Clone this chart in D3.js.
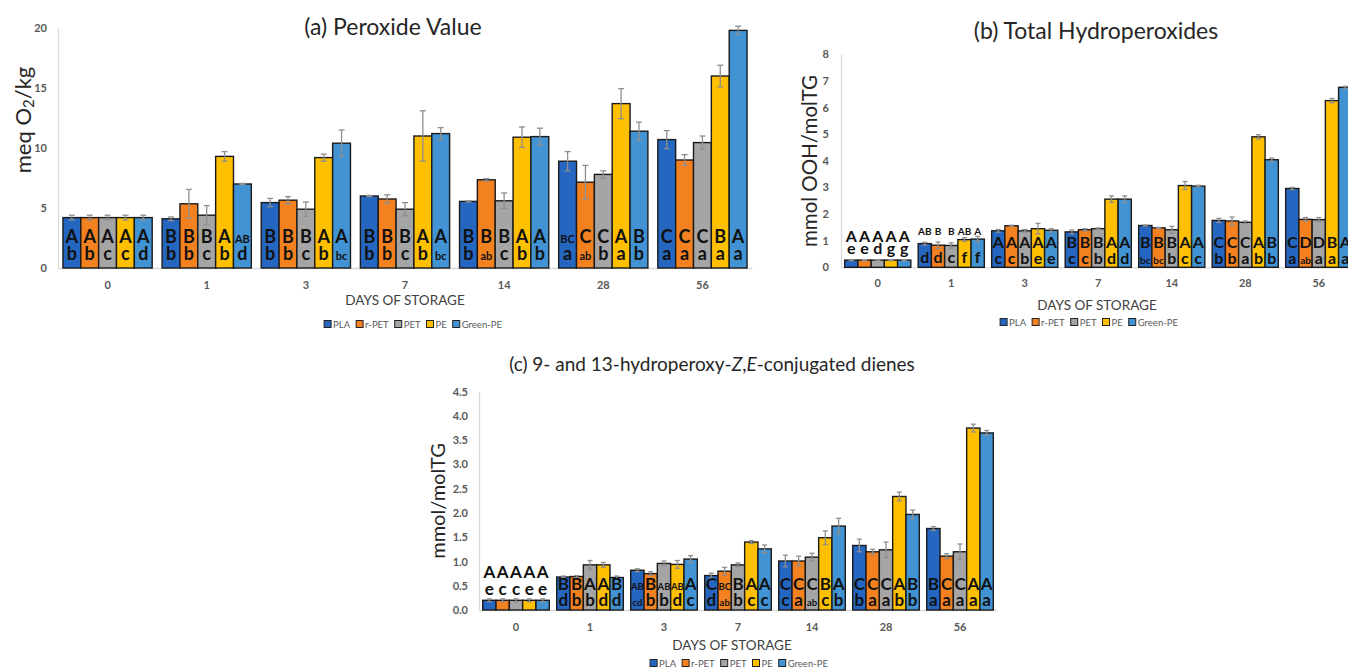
<!DOCTYPE html>
<html>
<head>
<meta charset="utf-8">
<script src="https://cdn.jsdelivr.net/npm/d3@7"></script>
<style>
  body { margin: 0; background: #fff; }
  svg { display: block; font-family: Lato, "Open Sans", sans-serif; }
</style>
</head>
<body>
<div id="chart"></div>
<script>
// categories
const days = ["0", "1", "3", "7", "14", "28", "56"];
const series = ["PLA", "r-PET", "PET", "PE", "Green-PE"];

// (a) peroxide value, meq O2/kg
const pvPLA  = [4.2, 4.1, 5.45, 6.0, 5.55, 8.9, 10.7];
const pvRPET = [4.2, 5.35, 5.65, 5.75, 7.35, 7.15, 9.0];
const pvPET  = [4.2, 4.4, 4.9, 4.9, 5.6, 7.8, 10.45];
const pvPE   = [4.2, 9.3, 9.2, 11.0, 10.9, 13.7, 16.0];
const pvGPE  = [4.2, 7.0, 10.4, 11.2, 10.95, 11.4, 19.8];
const pvPLAerr  = [0.2, 0.15, 0.35, 0.05, 0.05, 0.8, 0.75];
const pvRPETerr = [0.2, 1.2, 0.3, 0.35, 0.1, 1.4, 0.45];
const pvPETerr  = [0.2, 0.8, 0.6, 0.55, 0.65, 0.3, 0.55];
const pvPEerr   = [0.2, 0.4, 0.3, 2.1, 0.85, 1.25, 0.9];
const pvGPEerr  = [0.2, 0.05, 1.1, 0.5, 0.7, 0.75, 0.35];
const pvUpper = [["A","A","A","A","A"], ["B","B","B","A","AB"], ["B","B","B","A","A"], ["B","B","B","A","A"],
                 ["B","B","B","A","A"], ["BC","C","C","A","B"], ["C","C","C","B","A"]];
const pvLower = [["b","b","c","c","d"], ["b","b","c","b","d"], ["b","b","c","b","bc"], ["b","b","c","b","bc"],
                 ["b","ab","c","b","b"], ["a","ab","b","a","b"], ["a","a","a","a","a"]];

// (b) total hydroperoxides, mmol OOH/molTG
const thPLA  = [0.27, 0.89, 1.37, 1.33, 1.57, 1.76, 2.96];
const thRPET = [0.27, 0.83, 1.56, 1.41, 1.48, 1.74, 1.8];
const thPET  = [0.27, 0.82, 1.37, 1.45, 1.41, 1.69, 1.79];
const thPE   = [0.27, 1.04, 1.45, 2.56, 3.07, 4.9, 6.26];
const thGPE  = [0.27, 1.06, 1.39, 2.56, 3.05, 4.04, 6.76];
const thPLAerr  = [0.02, 0.05, 0.05, 0.07, 0.02, 0.08, 0.04];
const thRPETerr = [0.02, 0.12, 0.02, 0.04, 0.02, 0.15, 0.07];
const thPETerr  = [0.02, 0.1, 0.05, 0.03, 0.13, 0.05, 0.08];
const thPEerr   = [0.02, 0.07, 0.2, 0.12, 0.15, 0.08, 0.08];
const thGPEerr  = [0.02, 0.1, 0.06, 0.12, 0.03, 0.06, 0.04];
const thUpper = [["A","A","A","A","A"], ["AB","B","B","AB","A"], ["A","A","A","A","A"], ["B","B","B","A","A"],
                 ["B","B","B","A","A"], ["C","C","C","A","B"], ["C","D","D","B","A"]];
const thLower = [["e","e","d","g","g"], ["d","d","c","f","f"], ["c","c","b","e","e"], ["c","c","b","d","d"],
                 ["bc","bc","b","c","c"], ["b","b","a","b","b"], ["a","ab","a","a","a"]];

// (c) conjugated dienes, mmol/molTG
const cdPLA  = [0.2, 0.68, 0.82, 0.71, 1.01, 1.33, 1.68];
const cdRPET = [0.2, 0.69, 0.75, 0.8, 1.01, 1.2, 1.11];
const cdPET  = [0.2, 0.93, 0.96, 0.93, 1.09, 1.24, 1.2];
const cdPE   = [0.2, 0.93, 0.94, 1.4, 1.49, 2.34, 3.75];
const cdGPE  = [0.2, 0.67, 1.05, 1.26, 1.73, 1.97, 3.65];
const cdPLAerr  = [0.03, 0.02, 0.03, 0.05, 0.12, 0.13, 0.04];
const cdRPETerr = [0.03, 0.02, 0.04, 0.08, 0.1, 0.05, 0.05];
const cdPETerr  = [0.03, 0.09, 0.05, 0.04, 0.08, 0.16, 0.16];
const cdPEerr   = [0.03, 0.05, 0.08, 0.03, 0.14, 0.09, 0.08];
const cdGPEerr  = [0.03, 0.03, 0.07, 0.08, 0.16, 0.09, 0.05];
const cdUpper = [["A","A","A","A","A"], ["B","B","A","A","B"], ["AB","B","AB","AB","A"], ["C","BC","B","A","A"],
                 ["C","C","C","B","A"], ["C","C","C","A","B"], ["B","C","C","A","A"]];
const cdLower = [["e","c","c","e","e"], ["d","b","b","d","d"], ["cd","b","b","d","c"], ["d","ab","b","c","c"],
                 ["c","a","ab","c","b"], ["b","a","a","b","b"], ["a","a","a","a","a"]];

const pvTicks = [0, 5, 10, 15, 20];
const thTicks = [0, 1, 2, 3, 4, 5, 6, 7, 8];
const cdTicks = [0, 0.5, 1, 1.5, 2, 2.5, 3, 3.5, 4, 4.5];

const colors = ["#2566c0", "#f4811f", "#a5a5a5", "#ffc000", "#4193d3"];
const axisGrey = "#d9d9d9";
const textGrey = "#595959";

const svg = d3.select("#chart").append("svg")
    .attr("width", 1348)
    .attr("height", 670);

function drawPanel(cfg) {
    const g = svg.append("g");

    const x0 = d3.scaleBand().domain(days).range([cfg.left, cfg.right])
        .paddingInner(0.1).paddingOuter(0.05);
    const x1 = d3.scaleBand().domain(series).range([0, x0.bandwidth()]);
    const y = d3.scaleLinear().domain([0, cfg.max]).range([cfg.bottom, cfg.top]);
    const y0 = y(0);

    const yAxis = g.append("g")
        .attr("transform", `translate(${cfg.left},0)`)
        .call(d3.axisLeft(y).tickValues(cfg.ticks).tickFormat(cfg.fmt).tickSize(0).tickPadding(cfg.yPad));
    yAxis.select(".domain").attr("stroke", axisGrey).attr("stroke-width", 1.3);
    yAxis.selectAll("text").attr("fill", textGrey).attr("font-weight", "bold")
        .attr("font-size", "11px").attr("font-family", "Lato, sans-serif");

    const xAxis = g.append("g")
        .attr("transform", `translate(0,${cfg.bottom})`)
        .call(d3.axisBottom(x0).tickSize(0).tickPadding(cfg.xPad));
    xAxis.select(".domain").attr("stroke", axisGrey).attr("stroke-width", 1.3);
    xAxis.selectAll("text").attr("fill", textGrey).attr("font-weight", "bold")
        .attr("font-size", "11px").attr("font-family", "Lato, sans-serif");

    const rows = days.flatMap((d, i) => series.map((s, j) => ({
        day: d, s, i, j,
        v: cfg.values[j][i], e: cfg.errors[j][i],
        up: cfg.upper[i][j], lo: cfg.lower[i][j]
    })));

    const bx = d => x0(d.day) + x1(d.s);
    const bw = x1.bandwidth();

    g.selectAll(".bar")
        .data(rows)
        .join("rect")
        .attr("class", "bar")
        .attr("x", bx)
        .attr("y", d => y(d.v))
        .attr("width", bw)
        .attr("height", d => y0 - y(d.v))
        .attr("fill", d => colors[d.j])
        .attr("stroke", "#1b1b1b")
        .attr("stroke-width", 1.4);

    // error bars
    const eb = g.selectAll(".err").data(rows).join("g").attr("class", "err")
        .attr("stroke", "#8f8f8f").attr("stroke-width", 1.3);
    eb.append("line")
        .attr("x1", d => bx(d) + bw / 2).attr("x2", d => bx(d) + bw / 2)
        .attr("y1", d => y(d.v + d.e)).attr("y2", d => y(d.v - d.e));
    eb.append("line")
        .attr("x1", d => bx(d) + bw / 2 - cfg.cap).attr("x2", d => bx(d) + bw / 2 + cfg.cap)
        .attr("y1", d => y(d.v + d.e)).attr("y2", d => y(d.v + d.e));
    eb.append("line")
        .attr("x1", d => bx(d) + bw / 2 - cfg.cap).attr("x2", d => bx(d) + bw / 2 + cfg.cap)
        .attr("y1", d => y(d.v - d.e)).attr("y2", d => y(d.v - d.e));

    // significance letters
    g.selectAll(".up").data(rows).join("text")
        .attr("class", "up")
        .attr("x", d => bx(d) + bw / 2)
        .attr("y", d => y0 - cfg.upOff(d.i))
        .attr("text-anchor", "middle")
        .attr("font-weight", "bold")
        .attr("font-size", d => (d.up.length > 1 || cfg.smallUp(d.i)) ? cfg.small : cfg.big)
        .attr("fill", "#111")
        .text(d => d.up);

    g.selectAll(".lo").data(rows).join("text")
        .attr("class", "lo")
        .attr("x", d => bx(d) + bw / 2)
        .attr("y", d => y0 - cfg.loOff(d.i))
        .attr("text-anchor", "middle")
        .attr("font-weight", "bold")
        .attr("font-size", d => d.lo.length > 1 ? cfg.small : cfg.big)
        .attr("fill", "#111")
        .text(d => d.lo);

    // y label
    const yl = g.append("text")
        .attr("transform", `translate(${cfg.yLabelX},${cfg.yLabelY}) rotate(-90)`)
        .attr("text-anchor", "middle")
        .attr("dominant-baseline", "central")
        .attr("font-size", cfg.yLabelSize)
        .attr("fill", "#262626");
    cfg.yLabel(yl);

    // title
    const t = g.append("text")
        .attr("x", cfg.titleX)
        .attr("y", cfg.titleY)
        .attr("text-anchor", "middle")
        .attr("font-size", cfg.titleSize)
        .attr("fill", "#262626");
    cfg.title(t);

    g.append("text")
        .attr("x", cfg.daysX)
        .attr("y", cfg.daysY)
        .attr("text-anchor", "middle")
        .attr("font-size", "13.5px")
        .attr("fill", "#404040")
        .text("DAYS OF STORAGE");

    drawLegend(g, cfg.legendX, cfg.legendY);
}

function drawLegend(g, cx, cy) {
    const lg = g.append("g");
    let x = 0;
    series.forEach((s, j) => {
        lg.append("rect")
            .attr("x", x).attr("y", cy - 3.5)
            .attr("width", 7).attr("height", 7)
            .attr("fill", colors[j])
            .attr("stroke", "#222").attr("stroke-width", 1);
        const t = lg.append("text")
            .attr("x", x + 9).attr("y", cy)
            .attr("dominant-baseline", "central")
            .attr("font-size", "9.5px")
            .attr("fill", textGrey)
            .text(s);
        x += 9 + t.node().getComputedTextLength() + 6;
    });
    lg.attr("transform", `translate(${cx - (x - 6) / 2},0)`);
}

drawPanel({
    left: 58, right: 752, top: 28, bottom: 268, max: 20,
    ticks: pvTicks, fmt: d3.format("d"), yPad: 11, xPad: 13,
    values: [pvPLA, pvRPET, pvPET, pvPE, pvGPE],
    errors: [pvPLAerr, pvRPETerr, pvPETerr, pvPEerr, pvGPEerr],
    upper: pvUpper, lower: pvLower,
    upOff: i => 25, loOff: i => 8, smallUp: i => false,
    big: "18px", small: "11px", cap: 3,
    yLabelX: 22, yLabelY: 120, yLabelSize: "22px",
    yLabel: t => {
        t.append("tspan").text("meq O");
        t.append("tspan").attr("font-size", "15px").attr("dy", 6).text("2");
        t.append("tspan").attr("dy", -6).text("/kg");
    },
    titleX: 393, titleY: 35, titleSize: "23px",
    title: t => t.text("(a) Peroxide Value"),
    daysX: 405, daysY: 305,
    legendX: 413, legendY: 324
});

drawPanel({
    left: 841, right: 1355.5, top: 54.3, bottom: 267.3, max: 8,
    ticks: thTicks, fmt: d3.format("d"), yPad: 12, xPad: 12,
    values: [thPLA, thRPET, thPET, thPE, thGPE],
    errors: [thPLAerr, thRPETerr, thPETerr, thPEerr, thGPEerr],
    upper: thUpper, lower: thLower,
    upOff: i => i === 0 ? 25 : i === 1 ? 32 : 19.5,
    loOff: i => i === 0 ? 13.5 : i === 1 ? 4.5 : 3.5,
    smallUp: i => i === 1,
    big: "16px", small: "10px", cap: 2.5,
    yLabelX: 809, yLabelY: 161, yLabelSize: "20.5px",
    yLabel: t => t.text("mmol OOH/molTG"),
    titleX: 1096, titleY: 39, titleSize: "23px",
    title: t => t.text("(b) Total Hydroperoxides"),
    daysX: 1097, daysY: 310,
    legendX: 1089, legendY: 322
});

drawPanel({
    left: 479, right: 997, top: 391.7, bottom: 610, max: 4.5,
    ticks: cdTicks, fmt: d3.format(".1f"), yPad: 11, xPad: 13,
    values: [cdPLA, cdRPET, cdPET, cdPE, cdGPE],
    errors: [cdPLAerr, cdRPETerr, cdPETerr, cdPEerr, cdGPEerr],
    upper: cdUpper, lower: cdLower,
    upOff: i => i === 0 ? 32 : 20,
    loOff: i => i === 0 ? 15 : 4,
    smallUp: i => false,
    big: "17px", small: "9.5px", cap: 2.5,
    yLabelX: 437, yLabelY: 501, yLabelSize: "20px",
    yLabel: t => t.text("mmol/molTG"),
    titleX: 712, titleY: 371, titleSize: "19px",
    title: t => {
        t.append("tspan").text("(c) 9- and 13-hydroperoxy-");
        t.append("tspan").attr("font-style", "italic").text("Z");
        t.append("tspan").text(",");
        t.append("tspan").attr("font-style", "italic").text("E");
        t.append("tspan").text("-conjugated dienes");
    },
    daysX: 732, daysY: 650,
    legendX: 739, legendY: 663
});
</script>
</body>
</html>
